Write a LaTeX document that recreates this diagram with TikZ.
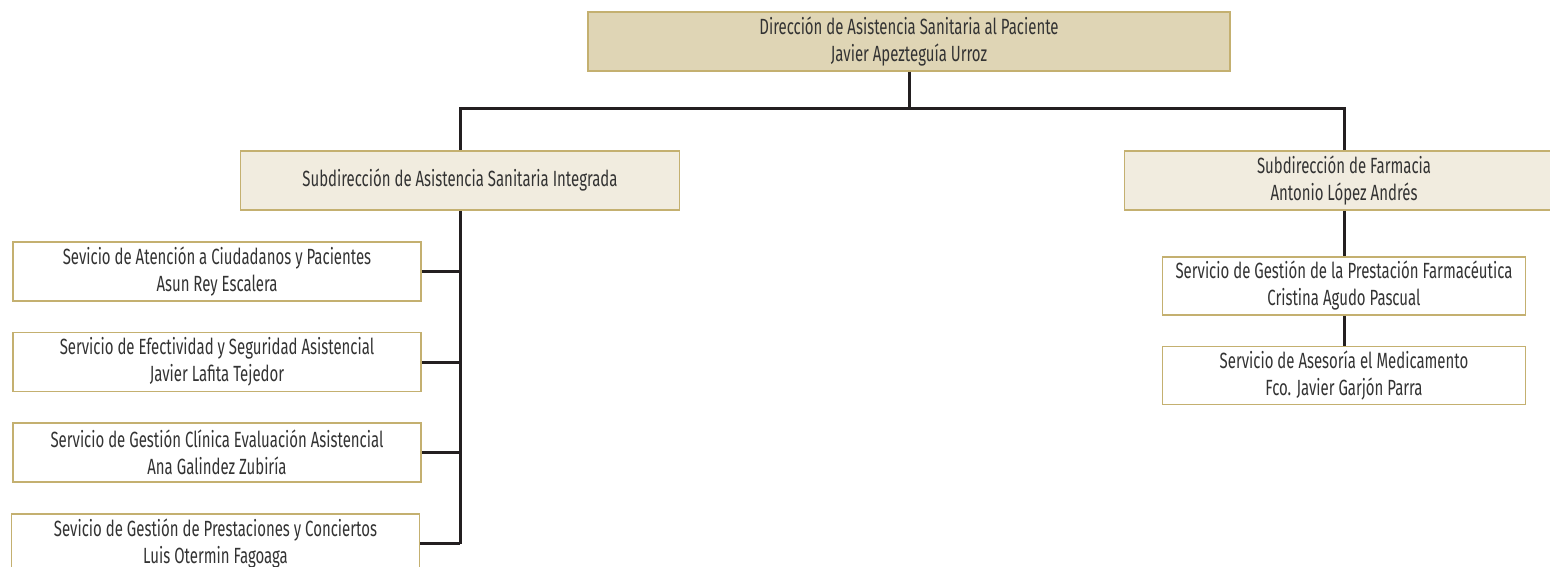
\documentclass[tikz,border=0pt]{standalone}
\usepackage{fontspec}
\setmainfont{Fira Sans}[FakeStretch=0.68]
\definecolor{gold}{HTML}{C4B070}
\definecolor{topfill}{HTML}{DFD5B5}
\definecolor{subfill}{HTML}{F1ECDF}
\definecolor{txt}{HTML}{333333}
\definecolor{linec}{HTML}{231F20}
\begin{document}
\begin{tikzpicture}[x=1pt,y=-1pt,
  box/.style={draw=gold,line width=1.5pt,inner sep=0pt,align=center,text=txt,
    font=\fontsize{22}{27}\selectfont,minimum height=59pt},
  topbox/.style={box,fill=topfill,minimum width=642pt},
  subbox/.style={box,fill=subfill,minimum width=439pt},
  servbox/.style={box,fill=white,minimum width=408pt},
  farmbox/.style={box,fill=white,minimum width=363pt,minimum height=58pt},
  conn/.style={draw=linec,line width=3pt}]
\useasboundingbox (0,0) rectangle (1550,567);
\clip (0,0) rectangle (1550,567);
\node[topbox] (top) at (909,41.5) {Dirección de Asistencia Sanitaria al Paciente\\Javier Apezteguía Urroz};
\node[subbox] (subL) at (460,180.5) {Subdirección de Asistencia Sanitaria Integrada};
\node[subbox] (subR) at (1344,180.5) {Subdirección de Farmacia\\Antonio López Andrés};
\node[servbox] (s1) at (217,271.5) {Sevicio de Atención a Ciudadanos y Pacientes\\Asun Rey Escalera};
\node[servbox] (s2) at (217,362) {Servicio de Efectividad y Seguridad Asistencial\\Javier Lafita Tejedor};
\node[servbox] (s3) at (217,452.5) {Servicio de Gestión Clínica Evaluación Asistencial\\Ana Galindez Zubiría};
\node[servbox] (s4) at (215.5,543.5) {Sevicio de Gestión de Prestaciones y Conciertos\\Luis Otermin Fagoaga};
\node[farmbox] (fA) at (1344,286) {Servicio de Gestión de la Prestación Farmacéutica\\Cristina Agudo Pascual};
\node[farmbox] (fB) at (1344,375.5) {Servicio de Asesoría el Medicamento\\Fco. Javier Garjón Parra};
\coordinate (jR) at (1344,109);
\draw[conn] (top.south) -- (top.south |- jR);
\draw[conn] (subL.north) |- (jR) -- (subR.north);
\draw[conn] (subL.south) -- (subL.south |- s4.east);
\foreach \s in {s1,s2,s3,s4} \draw[conn] (\s.east) -- (\s.east -| subL.south);
\draw[conn] (subR.south) -- (fA.north);
\draw[conn] (fA.south) -- (fB.north);
\end{tikzpicture}
\end{document}
